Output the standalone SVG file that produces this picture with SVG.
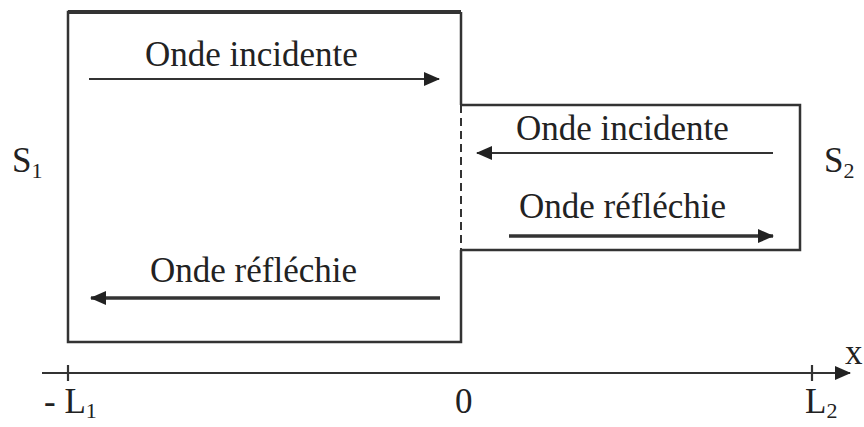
<svg xmlns="http://www.w3.org/2000/svg" width="864" height="427" viewBox="0 0 864 427">
<style>
text{font-family:"Liberation Serif","Times New Roman",serif;fill:#222;font-size:35px}
.sub{font-size:22px}
.box{fill:none;stroke:#333;stroke-width:2.5}
.thin{stroke:#333;stroke-width:2.2;fill:none}
.thick{stroke:#333;stroke-width:3.5;fill:none}
</style>
<defs>
<marker id="ahb" markerWidth="16" markerHeight="16" refX="15" refY="8" orient="auto" markerUnits="userSpaceOnUse" viewBox="0 0 16 16">
<path d="M0,1 L16,8 L0,15 Z" fill="#222"/>
</marker>
</defs>
<rect width="864" height="427" fill="#fff"/>
<g id="box1">
<path class="box" d="M461,12 L68,12 L68,342 L461,342 L461,250"/>
<line x1="68" y1="12" x2="461" y2="12" stroke="#333" stroke-width="4"/>
<line x1="461" y1="12" x2="461" y2="105" stroke="#333" stroke-width="2.5"/>
</g>
<g id="box2">
<path class="box" d="M461,105 L800,105 L800,250 L461,250"/>
<line x1="461" y1="105" x2="461" y2="250" stroke="#333" stroke-width="2" stroke-dasharray="8,5"/>
</g>
<g id="labels">
<text x="145" y="66">Onde incidente</text>
<text x="150" y="282">Onde réfléchie</text>
<text x="516" y="140">Onde incidente</text>
<text x="519" y="218">Onde réfléchie</text>
<text x="12" y="172">S<tspan class="sub" dy="6">1</tspan></text>
<text x="824" y="172">S<tspan class="sub" dy="6">2</tspan></text>
<text x="44" y="413">- L<tspan class="sub" dy="5">1</tspan></text>
<text x="455" y="413">0</text>
<text x="805" y="413">L<tspan class="sub" dy="5">2</tspan></text>
<text x="845" y="364" font-size="20">x</text>
</g>
<g id="connectors">
<line class="thin" x1="89" y1="79" x2="439" y2="79" marker-end="url(#ahb)"/>
<line class="thick" x1="440" y1="298" x2="91" y2="298" marker-end="url(#ahb)"/>
<line class="thin" x1="773" y1="153" x2="477" y2="153" marker-end="url(#ahb)"/>
<line class="thick" x1="509" y1="236" x2="773" y2="236" marker-end="url(#ahb)"/>
<line class="thin" x1="42" y1="373" x2="850" y2="373" marker-end="url(#ahb)"/>
<line class="thin" x1="68" y1="365" x2="68" y2="381"/>
<line class="thin" x1="812" y1="365" x2="812" y2="381"/>
</g>
</svg>
